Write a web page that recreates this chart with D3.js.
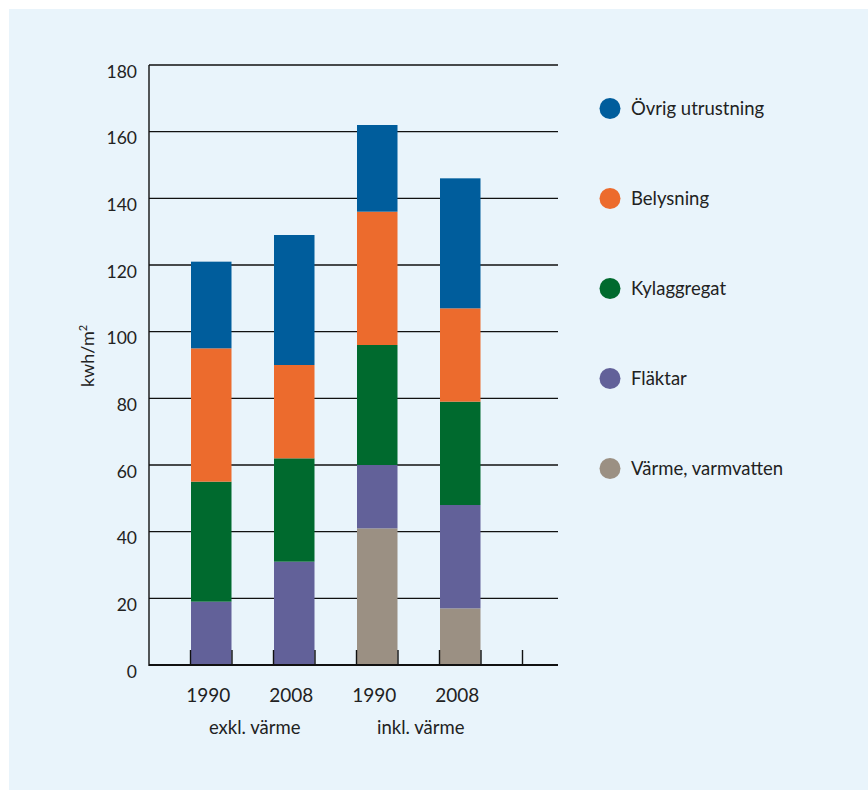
<!DOCTYPE html>
<html lang="sv">
<head>
<meta charset="utf-8">
<script src="https://cdn.jsdelivr.net/npm/d3@7"></script>
<style>
  html, body { margin: 0; padding: 0; background: #ffffff; }
  svg { display: block; }
  text { font-family: Lato, "Open Sans", sans-serif; fill: #222; }
</style>
</head>
<body>
<svg id="chart" width="868" height="790"></svg>
<script>
// Energy use per square metre, stacked by end use
const categories = ["1990", "2008", "1990", "2008"];
const groups = ["exkl. värme", "inkl. värme"];
const seriesNames = ["Värme, varmvatten", "Fläktar", "Kylaggregat", "Belysning", "Övrig utrustning"];
const varme       = [0, 0, 41, 17];
const flaktar     = [19, 31, 19, 31];
const kylaggregat = [36, 31, 36, 31];
const belysning   = [40, 28, 40, 28];
const ovrig       = [26, 39, 26, 39];
const yTicks = [0, 20, 40, 60, 80, 100, 120, 140, 160, 180];
const colors = ["#9b9083", "#626199", "#006a2e", "#ec6b2d", "#005d9c"];
const legendOrder = ["Övrig utrustning", "Belysning", "Kylaggregat", "Fläktar", "Värme, varmvatten"];

const seriesValues = [varme, flaktar, kylaggregat, belysning, ovrig];
const rows = categories.map((c, i) => {
  const r = { key: i };
  seriesNames.forEach((s, k) => { r[s] = seriesValues[k][i]; });
  return r;
});

const svg = d3.select("#chart");

// panel background
svg.append("rect").attr("x", 9).attr("y", 9).attr("width", 859).attr("height", 781)
  .attr("fill", "#e9f4fb");

const plotLeft = 149, plotRight = 558, plotTop = 65, plotBottom = 665;

const y = d3.scaleLinear().domain([0, 180]).range([plotBottom, plotTop]);
const x = d3.scaleBand().domain(categories.map((c, i) => i))
  .range([190.5, 522.5]).paddingInner(0.5).paddingOuter(0.25).align(0);
const color = d3.scaleOrdinal().domain(seriesNames).range(colors);

// gridlines
svg.append("g").selectAll("line").data(yTicks.filter(t => t > 0)).join("line")
  .attr("x1", plotLeft).attr("x2", plotRight)
  .attr("y1", d => y(d)).attr("y2", d => y(d))
  .attr("stroke", "#111").attr("stroke-width", 1.4);

// y tick labels (hanging just below each gridline)
svg.append("g").selectAll("text").data(yTicks).join("text")
  .attr("x", 137).attr("y", d => y(d) + 12.5)
  .attr("text-anchor", "end")
  .attr("font-size", 17.5)
  .text(d => d);

// stacked bars
const stacked = d3.stack().keys(seriesNames)(rows);
svg.append("g").selectAll("g").data(stacked).join("g")
  .attr("fill", d => color(d.key))
  .selectAll("rect").data(d => d.filter(p => p[1] > p[0])).join("rect")
  .attr("x", d => x(d.data.key) + 0.5)
  .attr("width", x.bandwidth() - 1)
  .attr("y", d => y(d[1]))
  .attr("height", d => y(d[0]) - y(d[1]));

// baseline axis with ticks at the band edges
const edges = [];
categories.forEach((c, i) => { edges.push(x(i)); edges.push(x(i) + x.bandwidth()); });
edges.push(x(categories.length - 1) + x.step());
svg.append("g").selectAll("line").data(edges).join("line")
  .attr("x1", d => d).attr("x2", d => d)
  .attr("y1", plotBottom - 15).attr("y2", plotBottom)
  .attr("stroke", "#111").attr("stroke-width", 1.4);
svg.append("line").attr("x1", plotLeft).attr("x2", plotRight)
  .attr("y1", plotBottom).attr("y2", plotBottom)
  .attr("stroke", "#111").attr("stroke-width", 2.2);
svg.append("line").attr("x1", plotLeft).attr("x2", plotLeft)
  .attr("y1", plotTop).attr("y2", plotBottom + 1)
  .attr("stroke", "#111").attr("stroke-width", 1.4);

// category labels
svg.append("g").selectAll("text").data(categories).join("text")
  .attr("x", (d, i) => x(i) + x.bandwidth() / 2 - 3)
  .attr("y", 702)
  .attr("text-anchor", "middle")
  .attr("font-size", 19)
  .text(d => d);

svg.append("g").selectAll("text").data(groups).join("text")
  .attr("x", (d, i) => (x(2 * i) + x(2 * i + 1) + x.bandwidth()) / 2 + 2)
  .attr("y", 734)
  .attr("text-anchor", "middle")
  .attr("font-size", 18.5)
  .text(d => d);

// y axis title
const yt = svg.append("text")
  .attr("transform", "translate(94,356) rotate(-90)")
  .attr("text-anchor", "middle")
  .attr("font-size", 18);
yt.append("tspan").text("kwh/m");
yt.append("tspan").attr("font-size", 11).attr("dy", -7).text("2");

// legend
const lg = svg.append("g").selectAll("g").data(legendOrder).join("g")
  .attr("transform", (d, i) => `translate(610,${108.5 + i * 90})`);
lg.append("circle").attr("r", 10.5).attr("fill", d => color(d));
lg.append("text").attr("x", 21).attr("y", 6.5).attr("font-size", 18.5).text(d => d);
</script>
</body>
</html>
